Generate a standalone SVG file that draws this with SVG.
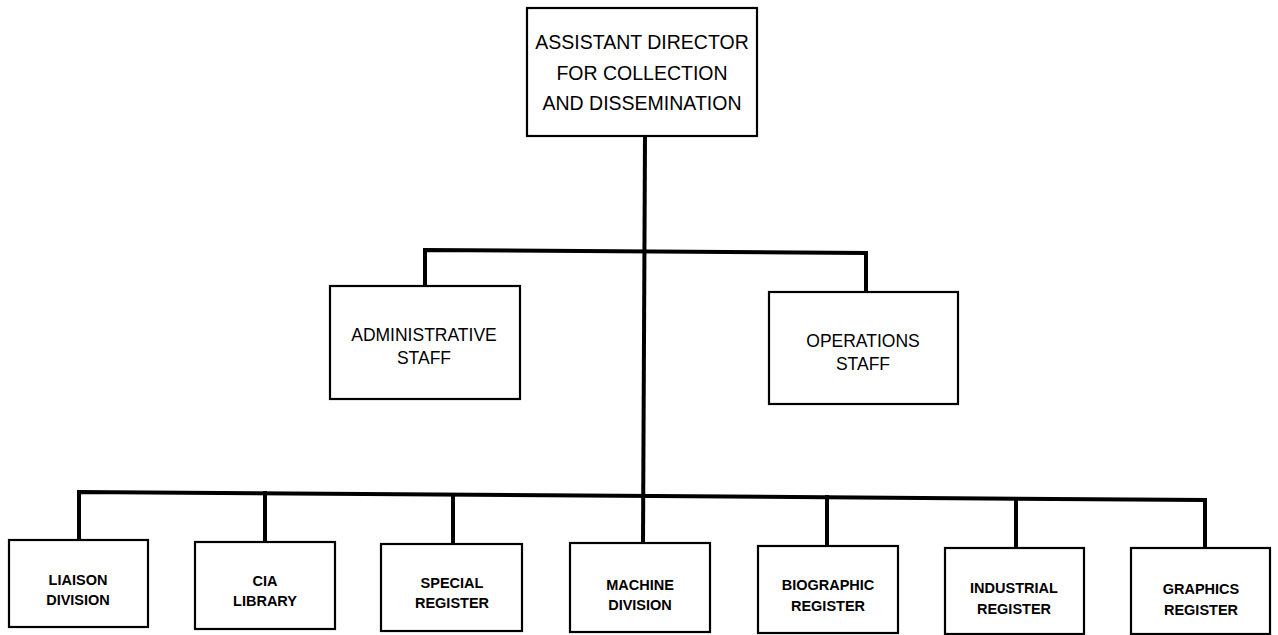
<svg xmlns="http://www.w3.org/2000/svg" width="1278" height="635" viewBox="0 0 1278 635">
<style>
.box{fill:#fff;stroke:#000;stroke-width:2.2}
.conn{fill:none;stroke:#000;stroke-width:4;stroke-linejoin:miter;stroke-linecap:square}
.t1{font-family:"Liberation Sans",Arial,sans-serif;font-size:19.5px;text-anchor:middle;fill:#000}
.t2{font-family:"Liberation Sans",Arial,sans-serif;font-size:17.5px;text-anchor:middle;fill:#000}
.t3{font-family:"Liberation Sans",Arial,sans-serif;font-size:14.5px;font-weight:bold;text-anchor:middle;fill:#000}
</style>
<rect width="1278" height="635" fill="#fff"/>
<g id="connectors">
<polyline class="conn" points="645,136 643,543"/>
<polyline class="conn" points="425,286 425,250 866,253 866,292"/>
<polyline class="conn" points="79,540 79,492 1205,500 1205,548"/>
<line class="conn" x1="265" y1="493" x2="265" y2="542"/>
<line class="conn" x1="453" y1="495" x2="453" y2="544"/>
<line class="conn" x1="827" y1="497" x2="827" y2="546"/>
<line class="conn" x1="1016" y1="499" x2="1016" y2="548"/>
</g>
<g id="director">
<rect class="box" x="527" y="8" width="230" height="128"/>
<text class="t1" x="642" y="49">ASSISTANT DIRECTOR</text>
<text class="t1" x="642" y="80">FOR COLLECTION</text>
<text class="t1" x="642" y="110">AND DISSEMINATION</text>
</g>
<g id="admin">
<rect class="box" x="330" y="286" width="190" height="113"/>
<text class="t2" x="424" y="341">ADMINISTRATIVE</text>
<text class="t2" x="424" y="364">STAFF</text>
</g>
<g id="ops">
<rect class="box" x="769" y="292" width="189" height="112"/>
<text class="t2" x="863" y="347">OPERATIONS</text>
<text class="t2" x="863" y="370">STAFF</text>
</g>
<g id="liaison">
<rect class="box" x="9" y="540" width="139" height="87"/>
<text class="t3" x="78" y="585">LIAISON</text>
<text class="t3" x="78" y="605">DIVISION</text>
</g>
<g id="cia">
<rect class="box" x="195" y="542" width="140" height="87"/>
<text class="t3" x="265" y="586">CIA</text>
<text class="t3" x="265" y="606">LIBRARY</text>
</g>
<g id="special">
<rect class="box" x="381" y="544" width="141" height="87"/>
<text class="t3" x="452" y="588">SPECIAL</text>
<text class="t3" x="452" y="608">REGISTER</text>
</g>
<g id="machine">
<rect class="box" x="570" y="543" width="140" height="89"/>
<text class="t3" x="640" y="590">MACHINE</text>
<text class="t3" x="640" y="610">DIVISION</text>
</g>
<g id="biographic">
<rect class="box" x="758" y="546" width="140" height="87"/>
<text class="t3" x="828" y="590">BIOGRAPHIC</text>
<text class="t3" x="828" y="611">REGISTER</text>
</g>
<g id="industrial">
<rect class="box" x="945" y="548" width="139" height="86"/>
<text class="t3" x="1014" y="593">INDUSTRIAL</text>
<text class="t3" x="1014" y="614">REGISTER</text>
</g>
<g id="graphics">
<rect class="box" x="1131" y="548" width="139" height="86"/>
<text class="t3" x="1201" y="594">GRAPHICS</text>
<text class="t3" x="1201" y="615">REGISTER</text>
</g>
</svg>
